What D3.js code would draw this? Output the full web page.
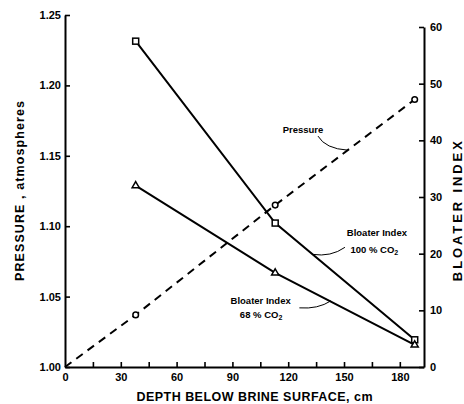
<!DOCTYPE html>
<html>
<head>
<meta charset="utf-8">
<script src="https://cdn.jsdelivr.net/npm/d3@7/dist/d3.min.js"></script>
<style>
  html, body { margin: 0; padding: 0; background: #fff; }
  svg { display: block; }
  text { font-family: "Liberation Sans", Arial, sans-serif; fill: #000; }
</style>
</head>
<body>
<script>
// ---- data ----
const depths = [38, 113, 188];
const bloater100 = [57.5, 25.4, 4.8];
const bloater68 = [32, 16.6, 3.9];
const pressureDepths = [0, 38, 113, 188];
const pressureValues = [1.000, 1.037, 1.115, 1.190];
const pressureMarked = [false, true, true, true];

const xTicks = [0, 30, 60, 90, 120, 150, 180];
const xTickLabels = ["0", "30", "60", "90", "120", "150", "180"];
const xMinorTicks = [15, 45, 75, 105, 135, 165];
const yLeftTicks = [1.00, 1.05, 1.10, 1.15, 1.20, 1.25];
const yLeftLabels = ["1.00", "1.05", "1.10", "1.15", "1.20", "1.25"];
const yRightTicks = [0, 10, 20, 30, 40, 50, 60];
const yRightLabels = ["0", "10", "20", "30", "40", "50", "60"];

const W = 464, H = 404;
const svg = d3.select("body").append("svg").attr("width", W).attr("height", H);

const x = d3.scaleLinear().domain([0, 193]).range([65, 424]);
const yL = d3.scaleLinear().domain([1.00, 1.25]).range([367, 15]);
const yR = d3.scaleLinear().domain([0, 60]).range([367, 27]);

const tickFont = "bold 11px 'Liberation Sans', Arial, sans-serif";

// X axis
const xAxis = d3.axisBottom(x).tickValues(xTicks)
  .tickFormat((d, i) => xTickLabels[i]).tickSizeInner(-5).tickSizeOuter(0).tickPadding(6);
const gx = svg.append("g").attr("transform", "translate(0,367)").call(xAxis);
gx.selectAll(".tick").filter(d => d === 0).select("line").remove();
const gxm = svg.append("g").attr("transform", "translate(0,367)")
  .call(d3.axisBottom(x).tickValues(xMinorTicks).tickFormat("").tickSizeInner(-5).tickSizeOuter(0));
gxm.select(".domain").remove();

// Left axis
const yAxisL = d3.axisLeft(yL).tickValues(yLeftTicks)
  .tickFormat((d, i) => yLeftLabels[i]).tickSizeInner(-5).tickSizeOuter(0).tickPadding(4);
const gyl = svg.append("g").attr("transform", "translate(65,0)").call(yAxisL);

// Right axis
const yAxisR = d3.axisRight(yR).tickValues(yRightTicks)
  .tickFormat((d, i) => yRightLabels[i]).tickSizeInner(-5).tickSizeOuter(0).tickPadding(6);
const gyr = svg.append("g").attr("transform", "translate(424,0)").call(yAxisR);

[gx, gxm, gyl, gyr].forEach(g => {
  g.selectAll(".domain").attr("stroke", "#000").attr("stroke-width", 2);
  g.selectAll(".tick line").attr("stroke", "#000").attr("stroke-width", 1.6);
  g.selectAll(".tick text").style("font", tickFont).attr("fill", "#000");
});

// Axis titles
svg.append("text")
  .attr("transform", `translate(24,${(yL(1.12) + yL(1.13)) / 2}) rotate(-90)`)
  .attr("text-anchor", "middle")
  .style("font", "bold 12.5px 'Liberation Sans', Arial, sans-serif")
  .attr("textLength", 180).attr("lengthAdjust", "spacing")
  .text("PRESSURE , atmospheres");

svg.append("text")
  .attr("transform", `translate(462,${yR(27.5)}) rotate(-90)`)
  .attr("text-anchor", "middle")
  .style("font", "bold 13px 'Liberation Sans', Arial, sans-serif")
  .attr("textLength", 140).attr("lengthAdjust", "spacing")
  .text("BLOATER INDEX");

svg.append("text")
  .attr("x", (x(0) + x(193)) / 2 + 10).attr("y", 401)
  .attr("text-anchor", "middle")
  .style("font", "bold 12.5px 'Liberation Sans', Arial, sans-serif")
  .attr("textLength", 236).attr("lengthAdjust", "spacing")
  .text("DEPTH BELOW BRINE SURFACE, cm");

// Lines
const line100 = d3.line().x((d, i) => x(depths[i])).y(d => yR(d));
const pLine = d3.line().x((d, i) => x(pressureDepths[i])).y(d => yL(d));

svg.append("path").attr("d", line100(bloater100))
  .attr("fill", "none").attr("stroke", "#000").attr("stroke-width", 2);
svg.append("path").attr("d", line100(bloater68))
  .attr("fill", "none").attr("stroke", "#000").attr("stroke-width", 2);
svg.append("path").attr("d", pLine(pressureValues))
  .attr("fill", "none").attr("stroke", "#000").attr("stroke-width", 2)
  .attr("stroke-dasharray", "8,6");

// Markers
svg.selectAll(".sq").data(bloater100).enter().append("rect")
  .attr("x", (d, i) => x(depths[i]) - 3).attr("y", d => yR(d) - 3)
  .attr("width", 6).attr("height", 6)
  .attr("fill", "#fff").attr("stroke", "#000").attr("stroke-width", 1.5);

svg.selectAll(".tri").data(bloater68).enter().append("path")
  .attr("transform", (d, i) => `translate(${x(depths[i])},${yR(d)})`)
  .attr("d", d3.symbol().type(d3.symbolTriangle).size(22)())
  .attr("fill", "#fff").attr("stroke", "#000").attr("stroke-width", 1.5);

svg.selectAll(".circ").data(pressureValues.filter((d, i) => pressureMarked[i])).enter().append("circle")
  .attr("cx", (d, i) => x(pressureDepths.filter((e, j) => pressureMarked[j])[i]))
  .attr("cy", d => yL(d)).attr("r", 2.8)
  .attr("fill", "#fff").attr("stroke", "#000").attr("stroke-width", 1.5);

// Annotations (positions in data units)
const annFont = "bold 9.5px 'Liberation Sans', Arial, sans-serif";
function note(txt, dx, py, anchor) {
  svg.append("text").attr("x", x(dx)).attr("y", yL(py))
    .attr("text-anchor", anchor || "start").style("font", annFont).text(txt);
}
function leader(p0, c, p1) {
  const path = d3.path();
  path.moveTo(x(p0[0]), yL(p0[1]));
  path.quadraticCurveTo(x(c[0]), yL(c[1]), x(p1[0]), yL(p1[1]));
  svg.append("path").attr("d", path.toString())
    .attr("fill", "none").attr("stroke", "#000").attr("stroke-width", 1);
}

note("Pressure", 117, 1.166);
leader([136, 1.164], [140, 1.155], [152, 1.154]);

note("Bloater Index", 151.5, 1.093);
svg.append("text").attr("x", x(153.5)).attr("y", yL(1.081)).style("font", annFont)
  .html("100 % CO<tspan dy='2' font-size='7'>2</tspan>");
leader([150.5, 1.085], [143, 1.078], [133, 1.080]);

note("Bloater Index", 89, 1.0445);
svg.append("text").attr("x", x(94)).attr("y", yL(1.0345)).style("font", annFont)
  .html("68 % CO<tspan dy='2' font-size='7'>2</tspan>");
leader([126, 1.042], [136, 1.041], [143, 1.047]);
</script>
</body>
</html>
